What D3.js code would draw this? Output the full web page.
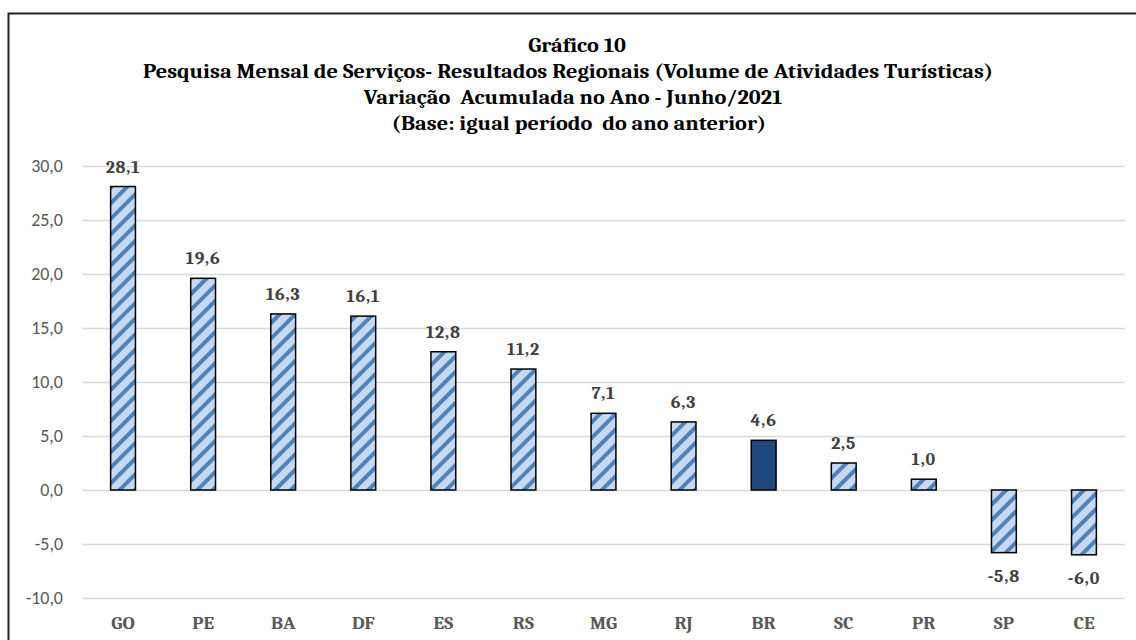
<!DOCTYPE html>
<html><head><meta charset="utf-8">
<script src="https://cdn.jsdelivr.net/npm/d3@7"></script>
<style>body{margin:0;background:#fff}svg{display:block}</style>
</head><body>
<svg id="c" width="1136" height="640"></svg>
<script>
const categories = ["GO","PE","BA","DF","ES","RS","MG","RJ","BR","SC","PR","SP","CE"];
const values = [28.1,19.6,16.3,16.1,12.8,11.2,7.1,6.3,4.6,2.5,1.0,-5.8,-6.0];
const highlight = ["BR"];
const yTicks = [-10,-5,0,5,10,15,20,25,30];
const titleLines = ["Gráfico 10",
 "Pesquisa Mensal de Serviços- Resultados Regionais (Volume de Atividades Turísticas)",
 "Variação  Acumulada no Ano - Junho/2021",
 "(Base: igual período  do ano anterior)"];

const svg = d3.select("#c");
const serif = "Cambria, 'Liberation Serif', 'DejaVu Serif', serif";
const sans = "Calibri, Carlito, Lato, 'Liberation Sans', sans-serif";

// frame
svg.append("rect").attr("x",8.5).attr("y",13.5).attr("width",1140).attr("height",640)
  .attr("fill","none").attr("stroke","#222").attr("stroke-width",2);

const defs = svg.append("defs");
const pat = defs.append("pattern").attr("id","stripe").attr("patternUnits","userSpaceOnUse")
  .attr("width",11).attr("height",11).attr("patternTransform","rotate(45)");
pat.append("rect").attr("width",11).attr("height",11).attr("fill","#c6d9f1");
pat.append("rect").attr("x",0).attr("width",4).attr("height",11).attr("fill","#4f81bd");

const x = d3.scaleBand().domain(categories).range([83,1124]).paddingInner(0.69).paddingOuter(0.345);
const y = d3.scaleLinear().domain([-10,30]).range([598,166]);

// title
const centers = [577, 568, 573, 579];
const tnodes = titleLines.map((t,i)=>
  svg.append("text").attr("x",centers[i]).attr("y",52+i*26).attr("text-anchor","middle")
    .attr("font-family",serif).attr("font-weight","bold").attr("font-size",20).attr("fill","#000")
    .attr("xml:space","preserve").text(t));
const k = 850 / tnodes[1].node().getComputedTextLength();
tnodes.forEach(n=>{
  const L = n.node().getComputedTextLength();
  n.attr("textLength", L*k).attr("lengthAdjust","spacingAndGlyphs");
});

// grid
svg.append("g").selectAll("line").data(yTicks).join("line")
  .attr("x1",82).attr("x2",1125).attr("y1",d=>y(d)+0.5).attr("y2",d=>y(d)+0.5)
  .attr("stroke","#d9d9d9").attr("stroke-width",1.5);

// y axis labels
const fmt = d=>d3.format(".1f")(d).replace(".",",").replace("−","-");
const yAxis = d3.axisLeft(y).tickValues(yTicks).tickSize(0).tickPadding(0).tickFormat(fmt);
const ga = svg.append("g").attr("transform","translate(63,0)").call(yAxis);
ga.select(".domain").remove();
ga.selectAll("text").attr("font-family",sans).attr("font-size",18).attr("fill","#595959");

// bars
svg.append("g").selectAll("rect").data(categories).join("rect")
  .attr("x",d=>x(d)).attr("width",x.bandwidth())
  .attr("y",(d,i)=>y(Math.max(0,values[i])))
  .attr("height",(d,i)=>Math.abs(y(values[i])-y(0)))
  .attr("fill",d=>highlight.includes(d)?"#1f497d":"url(#stripe)")
  .attr("stroke","#000").attr("stroke-width",1.5);

// value labels
svg.append("g").selectAll("text").data(categories).join("text")
  .attr("x",d=>x(d)+x.bandwidth()/2)
  .attr("y",(d,i)=>values[i]>=0? y(values[i])-14 : y(values[i])+29)
  .attr("text-anchor","middle").attr("font-family",serif).attr("font-weight","bold")
  .attr("font-size",18).attr("letter-spacing",0.8).attr("fill","#404040")
  .text((d,i)=>fmt(values[i]));

// x axis labels
const xAxis = d3.axisBottom(x).tickSize(0).tickPadding(0);
const gx = svg.append("g").attr("transform","translate(0,615)").call(xAxis);
gx.select(".domain").remove();
gx.selectAll("text").attr("font-family",serif).attr("font-weight","bold").attr("font-size",19).attr("fill","#595959");
</script>
</body></html>
